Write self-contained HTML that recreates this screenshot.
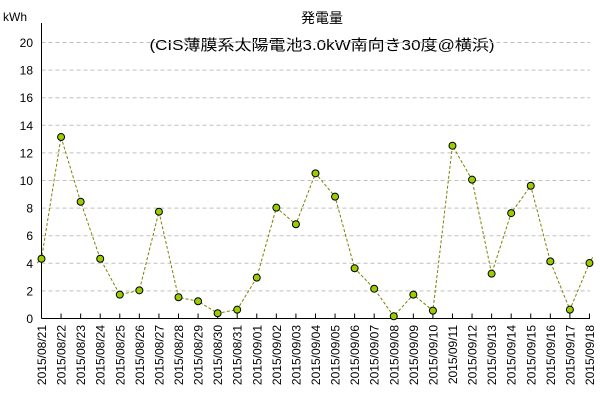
<!DOCTYPE html>
<html><head><meta charset="utf-8"><style>
body{margin:0;background:#fff;}
svg{display:block;font-family:"Liberation Sans","Noto Sans CJK JP",sans-serif;}
</style></head><body>
<svg id="chart" width="600" height="408">
<text x="322" y="23" font-size="14" text-anchor="middle" fill="#000">発電量</text>
<text x="322" y="50" font-size="15" text-anchor="middle" textLength="345" lengthAdjust="spacingAndGlyphs" fill="#000">(CIS薄膜系太陽電池3.0kW南向き30度@横浜)</text>
<text x="3" y="21" font-size="12" fill="#000">kWh</text>
<g id="grid"></g><g id="axes"></g><g id="series"></g>
</svg>
<script>
const categories=["2015/08/21","2015/08/22","2015/08/23","2015/08/24","2015/08/25","2015/08/26","2015/08/27","2015/08/28","2015/08/29","2015/08/30","2015/08/31","2015/09/01","2015/09/02","2015/09/03","2015/09/04","2015/09/05","2015/09/06","2015/09/07","2015/09/08","2015/09/09","2015/09/10","2015/09/11","2015/09/12","2015/09/13","2015/09/14","2015/09/15","2015/09/16","2015/09/17","2015/09/18"];
const values=[4.33,13.15,8.46,4.33,1.73,2.04,7.74,1.54,1.25,0.38,0.64,2.96,8.03,6.83,10.52,8.83,3.64,2.16,0.16,1.73,0.57,12.52,10.06,3.25,7.64,9.62,4.14,0.64,4.02];
const prevValue=[3.0];
const nextValue=[6.5];
const yTicks=[0,2,4,6,8,10,12,14,16,18,20];
const NS="http://www.w3.org/2000/svg";
const x0=41.5,dx=19.57,y0=318.5,ppu=13.8;
const xs=i=>x0+i*dx, ys=v=>y0-v*ppu;
const grid=document.getElementById('grid'),axes=document.getElementById('axes'),ser=document.getElementById('series');
function mk(tag,attrs,parent){const e=document.createElementNS(NS,tag);for(const k in attrs)e.setAttribute(k,attrs[k]);parent.appendChild(e);return e;}
yTicks.forEach(t=>{
  if(t>0){const g=mk('line',{x1:x0,x2:590,y1:ys(t),y2:ys(t),stroke:'#c0c0c0','stroke-dasharray':'4,3'},grid);
  
  }
  const l=mk('text',{x:33,y:ys(t)+4.5,'font-size':12,'text-anchor':'end',fill:'#000'},axes);
  l.textContent=t;
  
  
});
const ya=mk('line',{x1:x0,x2:x0,y1:23,y2:y0,stroke:'#000'},axes);


const xa=mk('line',{x1:x0,x2:590,y1:y0,y2:y0,stroke:'#000'},axes);


categories.forEach((c,i)=>{
  const tk=mk('line',{x1:xs(i),x2:xs(i),y1:y0-5,y2:y0,stroke:'#000'},axes);
  
  
  const t=mk('text',{x:0,y:0,'font-size':12,'text-anchor':'end',fill:'#000',transform:`translate(${xs(i)+4.5},325) rotate(-90)`},axes);
  t.textContent=c;
  
  
});
const clip=mk('clipPath',{id:'cp'},ser);mk('rect',{x:37,y:0,width:556,height:408},clip);
let pts=[[xs(-1),ys(prevValue[0])]];
values.forEach((v,i)=>pts.push([xs(i),ys(v)]));
pts.push([xs(values.length),ys(nextValue[0])]);
const pl=mk('polyline',{points:pts.map(p=>p.join(',')).join(' '),fill:'none',stroke:'#808000','stroke-width':1,'stroke-dasharray':'3,2','clip-path':'url(#cp)'},ser);


values.forEach((v,i)=>{
  const c=mk('circle',{cx:xs(i),cy:ys(v),r:3.5,fill:'#9acd00',stroke:'#000','stroke-width':1},ser);
  
  
});
</script>
</body></html>
